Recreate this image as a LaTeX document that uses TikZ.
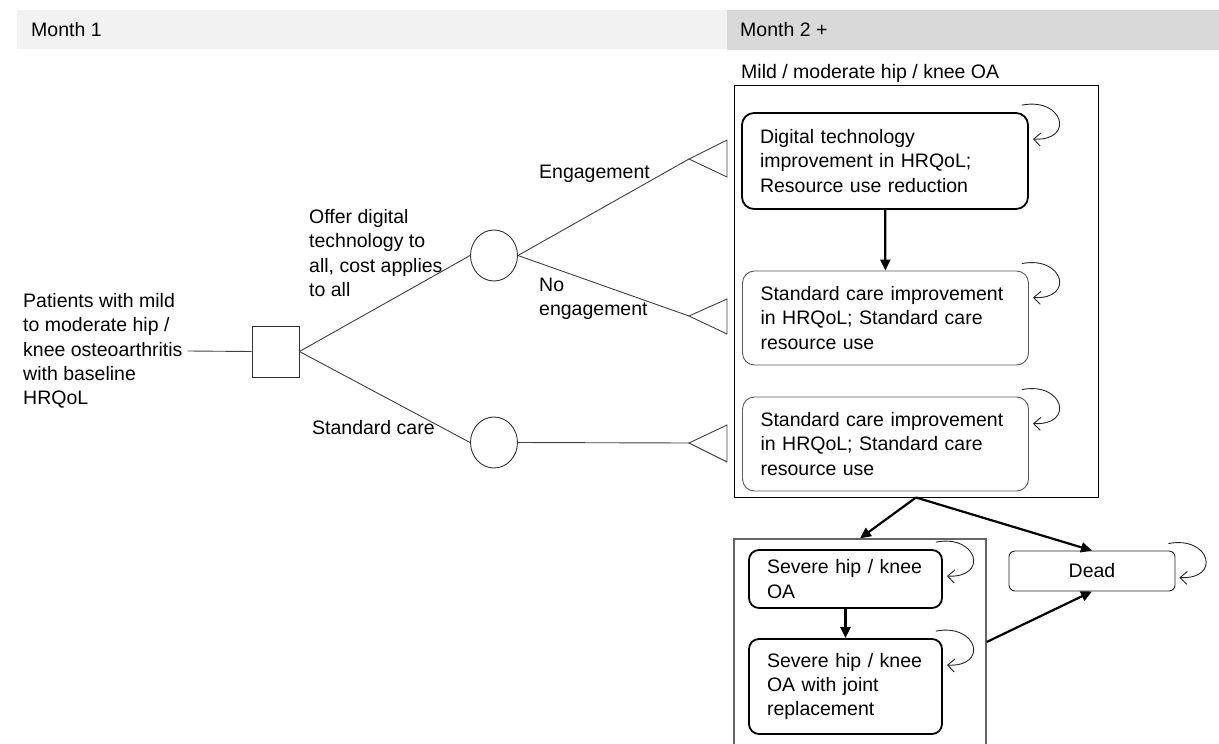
\documentclass[tikz,border=0pt]{standalone}
\usepackage{fontspec}
\setmainfont{Liberation Sans}
\usetikzlibrary{arrows.meta,shapes.geometric}
\tikzset{
    lbl/.style={anchor=west,inner sep=0pt,align=left},
    treeline/.style={draw=black!75,line width=0.9pt},
    statebox/.style={draw,rounded corners=12pt,line width=1.8pt,minimum width=286pt,
        minimum height=96pt,text width=250pt,inner xsep=18pt,align=left},
    softbox/.style={statebox,draw=black!65,line width=0.9pt,minimum height=94pt},
    severebox/.style={statebox,rounded corners=10pt,minimum width=193pt,text width=157pt},
    move/.style={line width=2.2pt,-{Triangle[length=11pt,width=10pt]}},
    selfloop/.style={draw=black!85,line width=0.9pt,-{Straight Barb[length=7pt,width=13pt]}}
}
\begin{document}
\begin{tikzpicture}[x=1pt,y=-1pt,font=\fontsize{19.5}{24.3}\selectfont]
    \useasboundingbox (0,0) rectangle (1219,744);
    \fill[black!5] (17,10) rectangle (727,49);
    \fill[black!15] (727,10) rectangle (1219,50);
    \node[lbl] (m1) at (31,29.5) {Month 1};
    \node[lbl] (m2) at (740,30) {Month 2 +};

    \node[lbl] (pat) at (23,351) {Patients with mild\\to moderate hip /\\knee osteoarthritis\\with baseline\\HRQoL};
    \node[draw=black!80,line width=0.9pt,minimum width=47pt,minimum height=51pt,inner sep=0pt] (dec) at (275.5,351.5) {};
    \node[ellipse,draw=black!80,line width=0.9pt,minimum width=47pt,minimum height=51pt,inner sep=0pt] (c1) at (494,255.5) {};
    \node[ellipse,draw=black!80,line width=0.9pt,minimum width=47pt,minimum height=51pt,inner sep=0pt] (c2) at (494,442.5) {};
    \coordinate (t1) at (689,159);
    \coordinate (t2) at (689,316);
    \coordinate (t3) at (689,443);
    \draw[treeline] (t1) -- ++(38,-19) -- ++(0,37) -- cycle;
    \draw[treeline] (t2) -- ++(38,-17) -- ++(0,35) -- cycle;
    \draw[treeline] (t3) -- ++(38,-18) -- ++(0,37) -- cycle;
    \draw[treeline] ([xshift=5pt]pat.east) -- (dec.west);
    \draw[treeline] (dec.east) -- (c1.west);
    \draw[treeline] (dec.east) -- (c2.west);
    \draw[treeline] (c1.east) -- (t1);
    \draw[treeline] (c1.east) -- (t2);
    \draw[treeline] (c2.east) -- (t3);
    \node[lbl] (offer) at (309,253) {Offer digital\\technology to\\all, cost applies\\to all};
    \node[lbl] (std) at (312,428) {Standard care};
    \node[lbl] (eng) at (539,174) {Engagement};
    \node[lbl] (noeng) at (539,298.5) {No\\engagement};

    \node[lbl] (mildlbl) at (741,73) {Mild / moderate hip / knee OA};
    \node[draw,line width=1pt,minimum width=364pt,minimum height=412pt] (mild) at (916,291) {};
    \node[statebox] (b1) at (885,161) {Digital technology\\improvement in HRQoL;\\Resource use reduction};
    \node[softbox] (b2) at (885.5,318) {Standard care improvement\\in HRQoL; Standard care\\resource use};
    \node[softbox] (b3) at (885.5,444) {Standard care improvement\\in HRQoL; Standard care\\resource use};

    \node[draw=black!60,line width=1.3pt,minimum width=252pt,minimum height=230pt] (sev) at (860,654) {};
    \node[severebox,minimum height=58pt] (s1) at (845.5,579) {Severe hip / knee\\OA};
    \node[severebox,minimum height=95pt] (s2) at (845.5,686.5) {Severe hip / knee\\OA with joint\\replacement};
    \node[draw=black!85,line width=0.9pt,rounded corners=6pt,minimum width=166pt,minimum height=40pt] (dead) at (1092,571) {Dead};

    \draw[move] (b1) -- (b2);
    \draw[move] (s1) -- (s2);
    \draw[move] (mild.south) -- (sev.north);
    \draw[move] (mild.south) -- (dead.north);
    \draw[move] ([shift={(0,-12)}]sev.east) -- (dead.south);
    \foreach \b in {b1,b2,b3,s1,s2,dead}
        \draw[selfloop] ([shift={(-7,-7)}]\b.north east) .. controls +(42,-8) and +(42,2) .. ([shift={(4,27)}]\b.north east);
\end{tikzpicture}
\end{document}
